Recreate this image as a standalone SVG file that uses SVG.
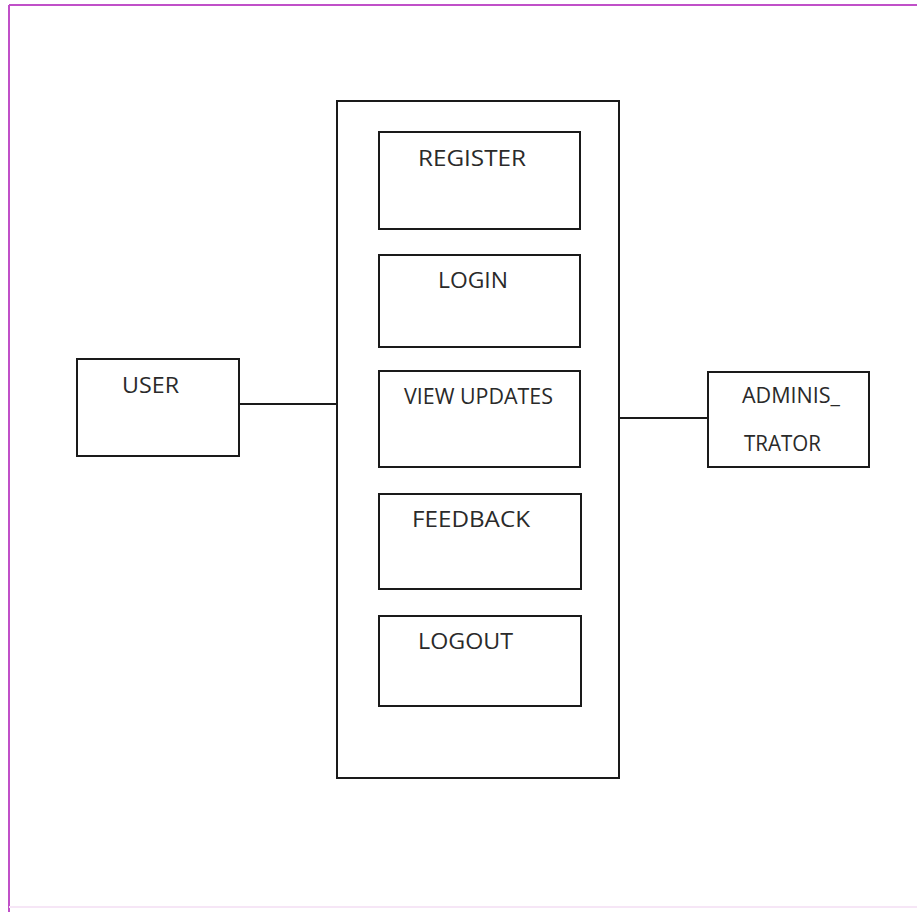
<svg xmlns="http://www.w3.org/2000/svg" width="917" height="912" viewBox="0 0 917 912">
<style>
.box{fill:#fff;stroke:#1a1a1a;stroke-width:2}
.lbl{font-family:"Open Sans","Liberation Sans",sans-serif;font-size:21px;fill:#2a2a2a}
.conn{stroke:#1a1a1a;stroke-width:2;fill:none}
</style>
<rect x="0" y="0" width="917" height="912" fill="#fff"/>
<g id="frame">
<line x1="9" y1="5" x2="917" y2="5" stroke="#c050c8" stroke-width="2"/>
<line x1="9" y1="5" x2="9" y2="912" stroke="#c050c8" stroke-width="2"/>
<line x1="9" y1="907" x2="917" y2="907" stroke="#f6e6f6" stroke-width="2"/>
</g>
<g id="system">
<rect class="box" x="337" y="101" width="282" height="677"/>
</g>
<g id="register">
<rect class="box" x="379" y="132" width="201" height="97"/>
<text class="lbl" x="418" y="166" textLength="108" lengthAdjust="spacingAndGlyphs">REGISTER</text>
</g>
<g id="login">
<rect class="box" x="379" y="255" width="201" height="92"/>
<text class="lbl" x="438" y="288" textLength="70" lengthAdjust="spacingAndGlyphs">LOGIN</text>
</g>
<g id="view-updates">
<rect class="box" x="379" y="371" width="201" height="96"/>
<text class="lbl" x="404" y="404" textLength="149" lengthAdjust="spacingAndGlyphs">VIEW UPDATES</text>
</g>
<g id="feedback">
<rect class="box" x="379" y="494" width="202" height="95"/>
<text class="lbl" x="412" y="527" textLength="118" lengthAdjust="spacingAndGlyphs">FEEDBACK</text>
</g>
<g id="logout">
<rect class="box" x="379" y="616" width="202" height="90"/>
<text class="lbl" x="418" y="649" textLength="95" lengthAdjust="spacingAndGlyphs">LOGOUT</text>
</g>
<g id="user">
<rect class="box" x="77" y="359" width="162" height="97"/>
<text class="lbl" x="122" y="393" textLength="57" lengthAdjust="spacingAndGlyphs">USER</text>
</g>
<g id="administrator">
<rect class="box" x="708" y="372" width="161" height="95"/>
<text class="lbl" x="742" y="403" textLength="98" lengthAdjust="spacingAndGlyphs">ADMINIS_</text>
<text class="lbl" x="744" y="451" textLength="77" lengthAdjust="spacingAndGlyphs">TRATOR</text>
</g>
<g id="connectors">
<line class="conn" x1="239" y1="404" x2="337" y2="404"/>
<line class="conn" x1="619" y1="418" x2="708" y2="418"/>
</g>
</svg>
